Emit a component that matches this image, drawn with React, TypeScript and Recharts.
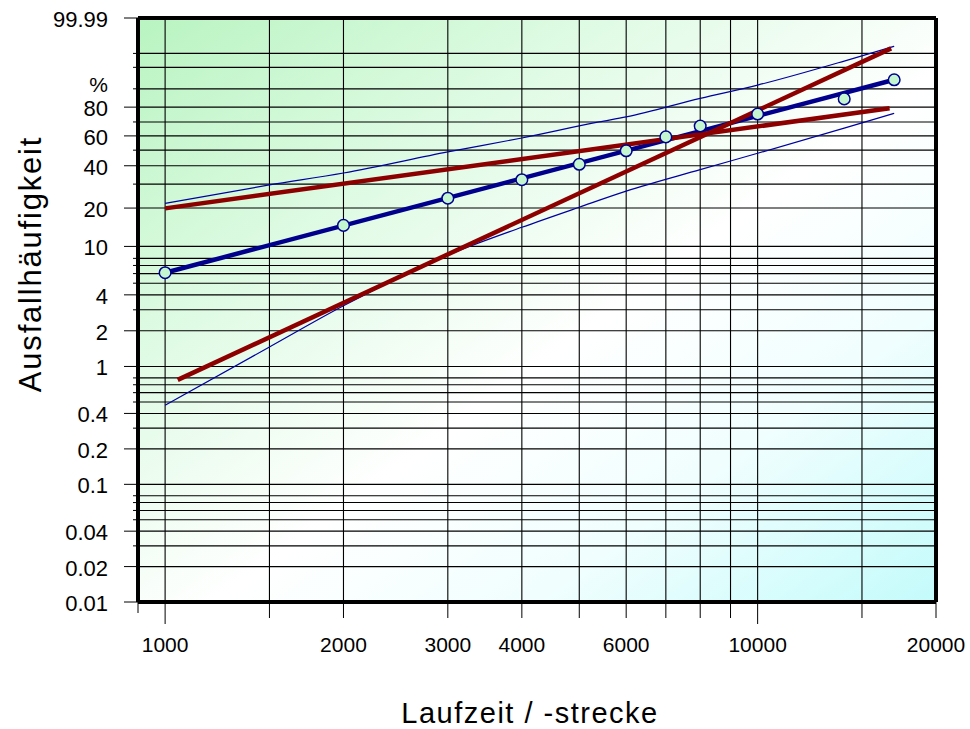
import React from 'react';
import { ComposedChart, Line, XAxis, YAxis, CartesianGrid, ReferenceLine, Label } from 'recharts';

// Weibull probability transform: F in percent -> ln(-ln(1-F))
const wb = (p: number) => Math.log(-Math.log(1 - p / 100));
const inv = (t: number) => 100 * (1 - Math.exp(-Math.exp(t)));

// Observed failures (Laufzeit, Ausfallhäufigkeit %)
const obsX = [1000, 2000, 3000, 4000, 5000, 6000, 7000, 8000, 10000, 14000, 17000];
const obsF = [6.1, 14.7, 23.7, 32.2, 40.9, 49.6, 59.3, 67.1, 75.5, 84.9, 93.6];

// Fitted Weibull line
const fitX = [1000, 17000];
const fitF = [6.1, 93.6];

// Confidence bounds
const upperX = [1000, 1500, 2000, 3000, 4000, 5400, 6000, 8000, 10000, 14000, 17000];
const upperF = [21.7, 29.6, 35.8, 48.8, 58.5, 70.0, 73.5, 85.2, 91.6, 98.1, 99.5];
const lowerX = [1000, 1500, 2000, 3000, 4000, 5000, 6000, 8000, 10000, 14000, 17000];
const lowerF = [0.47, 1.46, 3.24, 8.5, 14.2, 20.3, 26.7, 37.7, 47.9, 65.6, 76.0];

// Red reference lines
const redAX = [1000, 16700];
const redAF = [19.9, 79.3];
const redBX = [1050, 16800];
const redBF = [0.77, 99.38];

// Axes
const xDomain = [900, 20000];
const xGridTicks = [900, 1000, 1500, 2000, 3000, 4000, 5000, 6000, 7000, 8000, 9000, 10000, 15000, 20000];
const xLabelTicks = [1000, 2000, 3000, 4000, 6000, 10000, 20000];
const xLongTicks = [1000, 10000];

const yLabelTicks = [0.01, 0.02, 0.04, 0.1, 0.2, 0.4, 1, 2, 4, 10, 20, 40, 60, 80, 99.99];
const yMinorTicks = [0.03, 0.05, 0.06, 0.07, 0.08, 0.3, 0.5, 0.6, 0.7, 0.8, 3, 5, 6, 7, 8, 30, 50, 70, 90, 97, 99];
const yPercentTick = 90;
const yAllTicks = [...yLabelTicks, ...yMinorTicks].sort((a, b) => a - b);

const mk = (xs: number[], fs: number[]) => xs.map((x, i) => ({ x, y: wb(fs[i]) }));
const obsData = mk(obsX, obsF);
const fitData = mk(fitX, fitF);
const upperData = mk(upperX, upperF);
const lowerData = mk(lowerX, lowerF);
const redAData = mk(redAX, redAF);
const redBData = mk(redBX, redBF);

const FONT = '"Liberation Sans", Arial, Helvetica, sans-serif';

const nearest = (list: number[], v: number) => {
  let best = list[0];
  for (const c of list) if (Math.abs(Math.log(c) - Math.log(v)) < Math.abs(Math.log(best) - Math.log(v))) best = c;
  return best;
};

const XTick = (props: any) => {
  const { x, y, payload } = props;
  const v = nearest(xGridTicks, payload.value);
  const len = xLongTicks.includes(v) ? 22 : v === 900 ? 11 : 16;
  return (
    <g>
      <line x1={x} x2={x} y1={y} y2={y + len} stroke="#000" strokeWidth={1} />
      {xLabelTicks.includes(v) && (
        <text x={x} y={y + 50} textAnchor="middle" fontFamily={FONT} fontSize={21} fill="#000">
          {String(v)}
        </text>
      )}
    </g>
  );
};

const YTick = (props: any) => {
  const { x, y, payload } = props;
  const v = nearest(yAllTicks, inv(payload.value));
  const labeled = yLabelTicks.includes(v);
  const len = labeled ? 14 : 5;
  return (
    <g>
      <line x1={x - len} x2={x} y1={y} y2={y} stroke="#000" strokeWidth={1} />
      {labeled && (
        <text x={x - 30} y={y + 9} textAnchor="end" fontFamily={FONT} fontSize={22} fill="#000">
          {String(v)}
        </text>
      )}
      {v === yPercentTick && (
        <text x={x - 30} y={y + 3} textAnchor="end" fontFamily={FONT} fontSize={21} fill="#000">
          %
        </text>
      )}
    </g>
  );
};

const yDomain = [wb(0.01), wb(99.99)];

export default function App() {
  return (
    <div style={{ position: 'absolute', left: 0, top: 0, width: 970, height: 729 }}>
      <ComposedChart width={970} height={729} margin={{ top: 18, right: 34, bottom: 0, left: 0 }}>
        <defs>
          <linearGradient id="bgGrad" x1="0" y1="0" x2="1" y2="1">
            <stop offset="0" stopColor="#b9f4c1" />
            <stop offset="0.3" stopColor="#e0fbe5" />
            <stop offset="0.55" stopColor="#ffffff" />
            <stop offset="0.75" stopColor="#f0fefe" />
            <stop offset="1" stopColor="#c4fbfb" />
          </linearGradient>
        </defs>
        <CartesianGrid fill="url(#bgGrad)" fillOpacity={1} stroke="#000" strokeWidth={1.1} />
        <XAxis
          dataKey="x"
          type="number"
          scale="log"
          domain={xDomain}
          ticks={xGridTicks}
          interval={0}
          allowDataOverflow
          height={127}
          axisLine={false}
          tickLine={false}
          tickSize={0}
          tickMargin={0}
          tick={<XTick />}
        >
          <Label
            content={() => (
              <text x={530} y={723} textAnchor="middle" fontFamily={FONT} fontSize={29} letterSpacing={1.5} fill="#000">
                Laufzeit / -strecke
              </text>
            )}
          />
        </XAxis>
        <YAxis
          type="number"
          domain={yDomain}
          ticks={yAllTicks.map(wb)}
          interval={0}
          allowDataOverflow
          width={138}
          axisLine={false}
          tickLine={false}
          tickSize={0}
          tickMargin={0}
          tick={<YTick />}
        >
          <Label
            content={() => (
              <text
                x={41}
                y={264}
                transform="rotate(-90 41 264)"
                textAnchor="middle"
                fontFamily={FONT}
                fontSize={31}
                letterSpacing={1.8}
                fill="#000"
              >
                Ausfallhäufigkeit
              </text>
            )}
          />
        </YAxis>
        <Line data={upperData} dataKey="y" type="monotone" stroke="#0000a0" strokeWidth={1.2} dot={false} isAnimationActive={false} legendType="none" />
        <Line data={lowerData} dataKey="y" type="monotone" stroke="#0000a0" strokeWidth={1.2} dot={false} isAnimationActive={false} legendType="none" />
        <Line data={fitData} dataKey="y" type="linear" stroke="#00008c" strokeWidth={4.5} dot={false} isAnimationActive={false} legendType="none" />
        <Line
          data={obsData}
          dataKey="y"
          type="linear"
          stroke="none"
          dot={{ r: 5.8, fill: '#c4f7d0', stroke: '#00008c', strokeWidth: 1.5 }}
          isAnimationActive={false}
          legendType="none"
        />
        <Line data={redAData} dataKey="y" type="linear" stroke="#8c0000" strokeWidth={4.5} dot={false} isAnimationActive={false} legendType="none" />
        <Line data={redBData} dataKey="y" type="linear" stroke="#8c0000" strokeWidth={4.5} dot={false} isAnimationActive={false} legendType="none" />
        <ReferenceLine x={900} stroke="#000" strokeWidth={4} ifOverflow="visible" />
        <ReferenceLine x={20000} stroke="#000" strokeWidth={4} ifOverflow="visible" />
        <ReferenceLine y={yDomain[0]} stroke="#000" strokeWidth={4} ifOverflow="visible" />
        <ReferenceLine y={yDomain[1]} stroke="#000" strokeWidth={4} ifOverflow="visible" />
      </ComposedChart>
    </div>
  );
}
